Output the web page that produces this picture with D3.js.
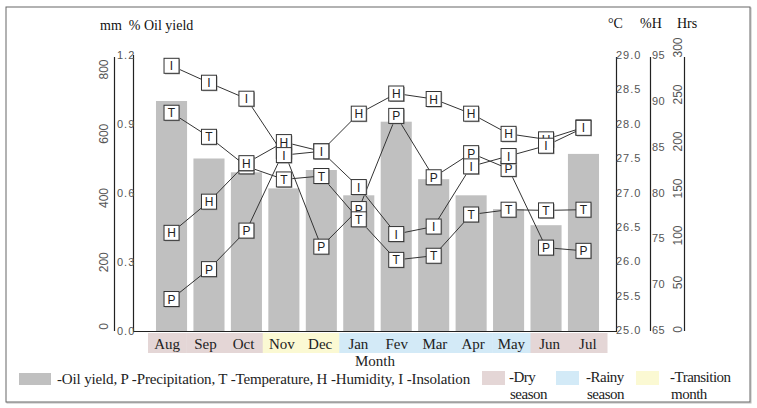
<!DOCTYPE html>
<html><head><meta charset="utf-8">
<script src="https://cdn.jsdelivr.net/npm/d3@7"></script>
<style>
body{margin:0;background:#fff;}
svg{display:block;}
</style></head>
<body><svg id="c" width="757" height="408"></svg>
<script>
const months = ["Aug","Sep","Oct","Nov","Dec","Jan","Fev","Mar","Apr","May","Jun","Jul"];
const seasons = ["dry","dry","dry","trans","trans","rainy","rainy","rainy","rainy","rainy","dry","dry"];
const oilYield = [1.00,0.75,0.69,0.62,0.70,0.59,0.91,0.66,0.59,0.53,0.46,0.77];
const precipitation = [84,177,297,545,247,364,654,463,538,489,244,234];
const temperature = [28.16,27.81,27.38,27.19,27.24,26.61,26.02,26.08,26.68,26.75,26.74,26.75];
const humidity = [75.6,79.0,83.2,85.5,84.5,88.6,90.8,90.2,88.6,86.4,85.8,87.1];
const insolation = [280,262,245,185,189,151,101,109,173,184,195,214];

const mmTicks = [0,200,400,600,800];
const oilTicks = [0,0.3,0.6,0.9,1.2];
const tempTicks = [25,25.5,26,26.5,27,27.5,28,28.5,29];
const humTicks = [65,70,75,80,85,90,95];
const hrsTicks = [0,50,100,150,200,250,300];

const seasonColor = {dry:"#e4d6d6", rainy:"#d3eaf7", trans:"#fbf9d3"};
const svg = d3.select("#c");
const serif = "'Liberation Serif','Times New Roman',serif";
const sans = "'Liberation Sans',Arial,sans-serif";

// outer frame
svg.append("rect").attr("x",7).attr("y",8).attr("width",744).attr("height",395).attr("fill","none").attr("stroke","#bbb");
svg.append("rect").attr("x",6).attr("y",7).attr("width",744).attr("height",395).attr("fill","#fff").attr("stroke","#666");

const x = d3.scaleBand().domain(months).range([152.8,602.2]).paddingInner(0.17).paddingOuter(0.085);
const xc = d3.scaleBand().domain(months).range([148,607]);
const yOil = d3.scaleLinear().domain([0,1.2]).range([331,55]);
const yMm = d3.scaleLinear().domain([0,800]).range([326,69]);
const yT = d3.scaleLinear().domain([25,29]).range([330,55]);
const yH = d3.scaleLinear().domain([65,95]).range([330,55]);
const yI = d3.scaleLinear().domain([0,300]).range([329,47]);

// bars
svg.append("g").selectAll("rect").data(oilYield).join("rect")
  .attr("x",(d,i)=>x(months[i])).attr("width",x.bandwidth())
  .attr("y",d=>yOil(d)).attr("height",d=>yOil(0)-yOil(d)).attr("fill","#c0c0c0");

// axis lines
const axLine = (x1,y1,x2,y2)=>svg.append("line").attr("x1",x1).attr("y1",y1).attr("x2",x2).attr("y2",y2).attr("stroke","#222").attr("stroke-width",1.2);
axLine(114.5,57,114.5,331);
axLine(133.5,55,133.5,331.5);
axLine(133,331.5,617,331.5);
axLine(616.5,57,616.5,331.5);
axLine(650.5,57,650.5,331);
axLine(684.5,57,684.5,331);

// left axes
const gMm = svg.append("g").attr("transform","translate(104,0)")
  .call(d3.axisLeft(yMm).tickValues(mmTicks).tickSize(0).tickFormat(d3.format("d")));
gMm.select(".domain").remove();
gMm.selectAll("text").attr("x",0).attr("y",0).attr("dy",0).attr("transform","rotate(-90)")
  .attr("text-anchor","middle").attr("dominant-baseline","central")
  .style("font-family",sans).style("font-size","12px").attr("fill","#555");

const gOil = svg.append("g").attr("transform","translate(117,0)")
  .call(d3.axisRight(yOil).tickValues(oilTicks).tickSize(0).tickFormat(d3.format(".1f")));
gOil.select(".domain").remove();
gOil.selectAll("text").attr("x",0).style("font-family",sans).style("font-size","11px").style("letter-spacing","1px").attr("fill","#555");

// right axes
const gT = svg.append("g").attr("transform","translate(616,0)")
  .call(d3.axisRight(yT).tickValues(tempTicks).tickSize(0).tickFormat(d3.format(".1f")));
gT.select(".domain").remove();
gT.selectAll("text").attr("x",0).style("font-family",sans).style("font-size","11px").style("letter-spacing","1px").attr("fill","#555");

const gH = svg.append("g").attr("transform","translate(652,0)")
  .call(d3.axisRight(yH).tickValues(humTicks).tickSize(0).tickFormat(d3.format("d")));
gH.select(".domain").remove();
gH.selectAll("text").attr("x",0).style("font-family",sans).style("font-size","11px").style("letter-spacing","0.5px").attr("fill","#555");

const gI = svg.append("g").attr("transform","translate(678,0)")
  .call(d3.axisLeft(yI).tickValues(hrsTicks).tickSize(0).tickFormat(d3.format("d")));
gI.select(".domain").remove();
gI.selectAll("text").attr("x",0).attr("y",0).attr("dy",0).attr("transform","rotate(-90)")
  .attr("text-anchor","middle").attr("dominant-baseline","central")
  .style("font-family",sans).style("font-size","12px").attr("fill","#555");

// top titles
const title = (t,xx,yy)=>svg.append("text").attr("x",xx).attr("y",yy).text(t)
  .style("font-family",serif).style("font-size","14px").attr("fill","#111");
title("mm  % Oil yield",100,30).style("white-space","pre").attr("xml:space","preserve");
title("°C",608,28); title("%H",640,28); title("Hrs",677,28);

// month cells
const cells = svg.append("g");
cells.selectAll("rect").data(months).join("rect")
  .attr("x",d=>xc(d)).attr("width",xc.bandwidth()+0.5).attr("y",333).attr("height",20)
  .attr("fill",(d,i)=>seasonColor[seasons[i]]);
cells.selectAll("text").data(months).join("text")
  .attr("x",d=>xc(d)+xc.bandwidth()/2).attr("y",349).attr("text-anchor","middle")
  .text(d=>d).style("font-family",serif).style("font-size","15px").attr("fill","#222");
svg.append("text").attr("x",375).attr("y",366).attr("text-anchor","middle").text("Month")
  .style("font-family",serif).style("font-size","15px").attr("fill","#222");

// legend
svg.append("rect").attr("x",19).attr("y",373).attr("width",32).attr("height",12).attr("fill","#c0c0c0");
svg.append("text").attr("x",57).attr("y",384).text("-Oil yield, P -Precipitation, T -Temperature, H -Humidity, I -Insolation")
  .style("font-family",serif).style("font-size","15px").style("letter-spacing","-0.15px").attr("fill","#222");
const legS = [["dry",482,509,["-Dry","season"]],["rainy",556,586,["-Rainy","season"]],["trans",636,670,["-Transition","month"]]];
legS.forEach(([k,sx,tx,lines])=>{
  svg.append("rect").attr("x",sx).attr("y",371).attr("width",23).attr("height",14).attr("fill",seasonColor[k]);
  svg.append("text").attr("x",tx).attr("y",382).text(lines[0]).style("font-family",serif).style("font-size","15px").style("letter-spacing","-0.5px").attr("fill","#222");
  svg.append("text").attr("x",tx+1).attr("y",399).text(lines[1]).style("font-family",serif).style("font-size","15px").style("letter-spacing","-0.5px").attr("fill","#222");
});

// series
const cx = m => x(m)+x.bandwidth()/2;
const series = [
  {key:"P", vals:precipitation, y:yMm},
  {key:"T", vals:temperature, y:yT},
  {key:"H", vals:humidity, y:yH},
  {key:"I", vals:insolation, y:yI}
];
const line = d3.line();
const gl = svg.append("g");
series.forEach(s=>{
  gl.append("path").attr("d",line(s.vals.map((v,i)=>[cx(months[i]),s.y(v)])))
    .attr("fill","none").attr("stroke","#333").attr("stroke-width",1);
});
const gm = svg.append("g");
series.forEach(s=>{
  s.vals.forEach((v,i)=>{
    const px = cx(months[i]), py = s.y(v);
    const g = gm.append("g").attr("transform",`translate(${px},${py})`);
    g.append("rect").attr("x",-6.5).attr("y",-6.5).attr("width",15).attr("height",15).attr("fill","#999");
    g.append("rect").attr("x",-7.5).attr("y",-7.5).attr("width",15).attr("height",15).attr("fill","#fff").attr("stroke","#333").attr("stroke-width",1);
    g.append("text").attr("x",0).attr("y",4.5).attr("text-anchor","middle").text(s.key)
      .style("font-family",sans).style("font-size","12px").attr("fill","#222");
  });
});
</script></body></html>
